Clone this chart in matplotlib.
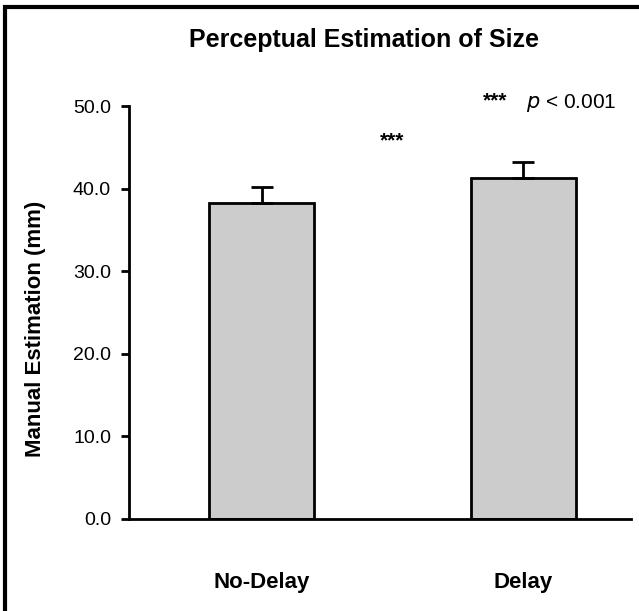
import matplotlib
matplotlib.use("Agg")
import matplotlib.pyplot as plt
from matplotlib.patches import Rectangle

plt.rcParams['font.family'] = ['Liberation Sans', 'DejaVu Sans']

conditions = ["No-Delay", "Delay"]
means = [38.3, 41.3]
errors = [1.9, 2.0]
y_ticks = [0.0, 10.0, 20.0, 30.0, 40.0, 50.0]

fig = plt.figure(figsize=(6.39, 6.11), dpi=100)
ax = fig.add_axes([0.202, 0.151, 0.785, 0.675])

x = list(range(len(conditions)))
ax.bar(x, means, width=0.40, color="#cccccc", edgecolor="black", linewidth=2, zorder=2)
ax.errorbar(x, means, yerr=[[0] * len(errors), errors], fmt="none", ecolor="black",
            elinewidth=2, capsize=8, capthick=2, zorder=3)

ax.set_xlim(-0.506, 1.41)
ax.set_ylim(0, 50)
ax.set_yticks(y_ticks)
ax.set_yticklabels([f"{v:.1f}" for v in y_ticks], fontsize=14)
ax.set_xticks(x)
ax.set_xticklabels(conditions, fontsize=16, fontweight="bold")
ax.tick_params(axis="x", length=0, pad=38)
ax.tick_params(axis="y", length=6, width=2, direction="out", pad=7)
for side in ("top", "right"):
    ax.spines[side].set_visible(False)
for side in ("left", "bottom"):
    ax.spines[side].set_linewidth(2)
ax.set_ylabel("Manual Estimation (mm)", fontsize=16, fontweight="bold")
ax.yaxis.set_label_coords(-0.166, 0.46)

fig.text(0.57, 0.935, "Perceptual Estimation of Size", ha="center", va="center",
         fontsize=18, fontweight="bold")
ax.text(0.5, 45.8, "***", ha="center", va="center", fontsize=15, fontweight="bold")
fig.text(0.755, 0.835, "***", ha="left", va="center", fontsize=15, fontweight="bold")
fig.text(0.823, 0.832, "$\\it{p}$ < 0.001", ha="left", va="center", fontsize=15)

fig.add_artist(Rectangle((0.008, -0.05), 1.05, 1.038, transform=fig.transFigure,
                         fill=False, edgecolor="black", linewidth=3, clip_on=False))

fig.savefig("out.png", dpi=100)
